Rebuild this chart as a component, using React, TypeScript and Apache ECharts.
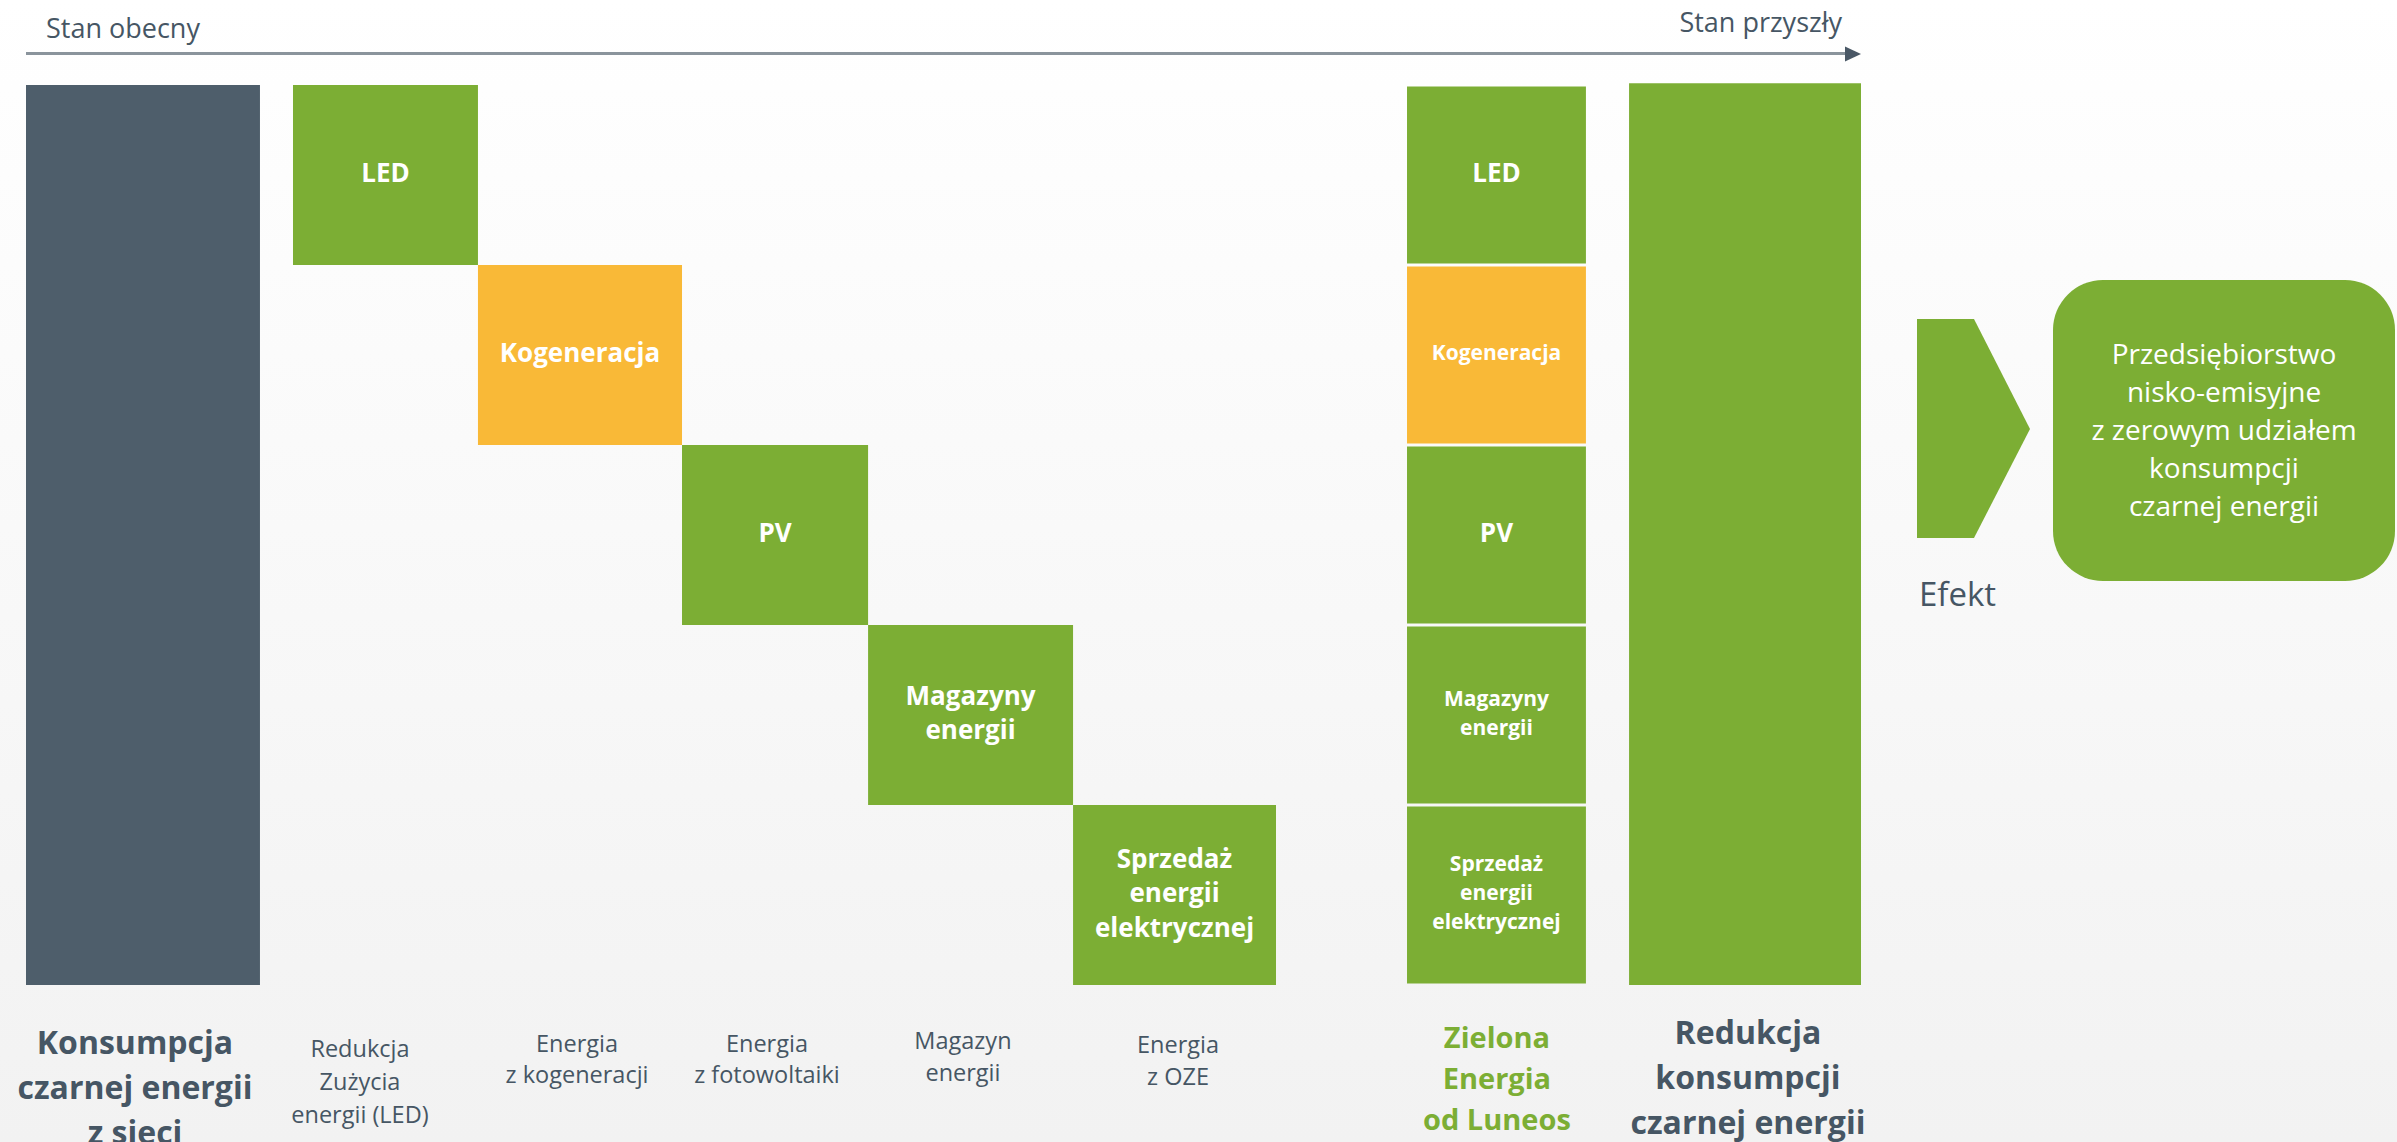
import { useEffect, useRef } from 'react';
import * as echarts from 'echarts';

// ---------- data ----------
const categoryLabels = [
  'Konsumpcja\nczarnej energii\nz sieci',
  'Redukcja\nZużycia\nenergii (LED)',
  'Energia\nz kogeneracji',
  'Energia\nz fotowoltaiki',
  'Magazyn\nenergii',
  'Energia\nz OZE',
  'Zielona\nEnergia\nod Luneos',
  'Redukcja\nkonsumpcji\nczarnej energii',
];
const consumptionValue = 100;
const componentNames = ['LED', 'Kogeneracja', 'PV', 'Magazyny\nenergii', 'Sprzedaż\nenergii\nelektrycznej'];
const componentValues = [20, 20, 20, 20, 20];
const reductionValue = 100.2;
const axisStartLabel = 'Stan obecny';
const axisEndLabel = 'Stan przyszły';
const effectLabel = 'Efekt';
const effectText = 'Przedsiębiorstwo\nnisko-emisyjne\nz zerowym udziałem\nkonsumpcji\nczarnej energii';

// ---------- layout / style ----------
const FONT = '"Open Sans", "Noto Sans", sans-serif';
const GREEN = '#7cae34';
const ORANGE = '#f9b937';
const DARK = '#4e5e6b';
const TEXT = '#465664';
const COMPONENT_FILLS = [GREEN, ORANGE, GREEN, GREEN, GREEN];
const STACK_LABEL_SIZES = [26, 21, 26, 21, 21];
// column spans in x-axis units (0..100 of the track)
const COL_SPANS = [
  [0, 12.75],
  [14.55, 24.63],
  [24.63, 35.75],
  [35.75, 45.89],
  [45.89, 57.06],
  [57.06, 68.12],
  [75.26, 85.01],
  [87.36, 100],
];
const LABEL_X = [5.94, 18.2, 30.03, 40.38, 51.06, 62.78, 80.16, 93.84];
const LABEL_STYLE = [
  { size: 32, weight: 'bold', color: TEXT, lh: 45, first: 56 },
  { size: 23.5, weight: 'normal', color: TEXT, lh: 33, first: 63 },
  { size: 23.5, weight: 'normal', color: TEXT, lh: 31, first: 58 },
  { size: 23.5, weight: 'normal', color: TEXT, lh: 31, first: 58 },
  { size: 23.5, weight: 'normal', color: TEXT, lh: 32, first: 55 },
  { size: 23.5, weight: 'normal', color: TEXT, lh: 32, first: 59 },
  { size: 29, weight: 'bold', color: GREEN, lh: 41, first: 51 },
  { size: 32, weight: 'bold', color: TEXT, lh: 45, first: 46 },
];

type Bar = { col: number; low: number; high: number; fill: string; label: string; size: number; lh: number; gap: number };

function buildBars(): Bar[] {
  const bars: Bar[] = [];
  bars.push({ col: 0, low: 0, high: consumptionValue, fill: DARK, label: '', size: 0, lh: 0, gap: 0 });
  let top = consumptionValue;
  componentValues.forEach((v, i) => {
    bars.push({ col: i + 1, low: top - v, high: top, fill: COMPONENT_FILLS[i], label: componentNames[i], size: 26, lh: 34.5, gap: 0 });
    top -= v;
  });
  let base = 0;
  for (let i = componentValues.length - 1; i >= 0; i--) {
    const v = componentValues[i];
    bars.push({ col: 6, low: base, high: base + v, fill: COMPONENT_FILLS[i], label: componentNames[i], size: STACK_LABEL_SIZES[i], lh: 29, gap: 1.5 });
    base += v;
  }
  bars.push({ col: 7, low: 0, high: reductionValue, fill: GREEN, label: '', size: 0, lh: 0, gap: 0 });
  return bars;
}

export default function App() {
  const ref = useRef<HTMLDivElement>(null);
  useEffect(() => {
    if (!ref.current) return;
    const chart = echarts.init(ref.current, null, { renderer: 'svg' });
    const bars = buildBars();

    const option: any = {
      animation: false,
      backgroundColor: new echarts.graphic.LinearGradient(0, 0, 0, 1, [
        { offset: 0, color: '#ffffff' },
        { offset: 1, color: '#f2f2f2' },
      ]),
      grid: { left: 26, right: 536, top: 85, bottom: 157 },
      xAxis: {
        type: 'value',
        min: 0,
        max: 100,
        offset: 10,
        axisLine: { show: true, onZero: false, lineStyle: { color: '#262626', width: 2, shadowColor: 'rgba(0,0,0,0.35)', shadowOffsetY: 1.5, shadowBlur: 1 } },
        axisTick: { show: false },
        axisLabel: { show: false },
        splitLine: { show: false },
      },
      yAxis: { type: 'value', min: 0, max: 100, show: false, splitLine: { show: false } },
      series: [
        {
          type: 'custom',
          silent: true,
          data: bars.map((b) => [b.col, b.low, b.high]),
          encode: { x: 0, y: 2 },
          renderItem: (params: any, api: any) => {
            const b = bars[params.dataIndex];
            const span = COL_SPANS[b.col];
            const p0 = api.coord([span[0], b.high]);
            const p1 = api.coord([span[1], b.low]);
            const x = p0[0];
            const y = p0[1] + b.gap;
            const w = p1[0] - p0[0];
            const h = p1[1] - p0[1] - 2 * b.gap;
            const children: any[] = [
              { type: 'rect', shape: { x, y, width: w, height: h }, style: { fill: b.fill } },
            ];
            if (b.label) {
              children.push({
                type: 'text',
                x: x + w / 2,
                y: y + h / 2 - 3,
                style: {
                  text: b.label,
                  fill: '#ffffff',
                  fontSize: b.size,
                  fontWeight: 'bold',
                  fontFamily: FONT,
                  lineHeight: b.lh,
                  align: 'center',
                  verticalAlign: 'middle',
                },
              });
            }
            return { type: 'group', children };
          },
        },
        {
          type: 'custom',
          silent: true,
          data: categoryLabels.map((_, i) => [LABEL_X[i], 0]),
          encode: { x: 0, y: 1 },
          renderItem: (params: any, api: any) => {
            const i = params.dataIndex;
            const st = LABEL_STYLE[i];
            const p = api.coord([LABEL_X[i], 0]);
            return {
              type: 'text',
              x: p[0],
              y: p[1] + st.first - st.lh / 2,
              style: {
                text: categoryLabels[i],
                fill: st.color,
                fontSize: st.size,
                fontWeight: st.weight,
                fontFamily: FONT,
                lineHeight: st.lh,
                align: 'center',
                verticalAlign: 'top',
              },
            };
          },
        },
      ],
      graphic: [
        { type: 'line', silent: true, shape: { x1: 26, y1: 53.5, x2: 1848, y2: 53.5 }, style: { stroke: '#8a949c', lineWidth: 3 } },
        { type: 'polygon', silent: true, shape: { points: [[1845, 46.5], [1861, 54], [1845, 61.5]] }, style: { fill: '#4a5866' } },
        { type: 'text', silent: true, x: 46, y: 27, style: { text: axisStartLabel, fill: TEXT, fontSize: 27, fontFamily: FONT, align: 'left', verticalAlign: 'middle' } },
        { type: 'text', silent: true, x: 1842, y: 21, style: { text: axisEndLabel, fill: TEXT, fontSize: 27, fontFamily: FONT, align: 'right', verticalAlign: 'middle' } },
        { type: 'polygon', silent: true, shape: { points: [[1917, 319], [1974, 319], [2030, 429], [1974, 538], [1917, 538]] }, style: { fill: GREEN } },
        { type: 'text', silent: true, x: 1919, y: 593, style: { text: effectLabel, fill: TEXT, fontSize: 33, fontFamily: FONT, align: 'left', verticalAlign: 'middle' } },
        { type: 'rect', silent: true, shape: { x: 2053, y: 280, width: 342, height: 301, r: 50 }, style: { fill: GREEN } },
        { type: 'text', silent: true, x: 2224, y: 429, style: { text: effectText, fill: '#ffffff', fontSize: 28, fontFamily: FONT, lineHeight: 38, align: 'center', verticalAlign: 'middle' } },
      ],
    };
    chart.setOption(option);
    return () => chart.dispose();
  }, []);
  return <div ref={ref} style={{ position: 'fixed', left: 0, top: 0, width: 2397, height: 1142 }} />;
}
